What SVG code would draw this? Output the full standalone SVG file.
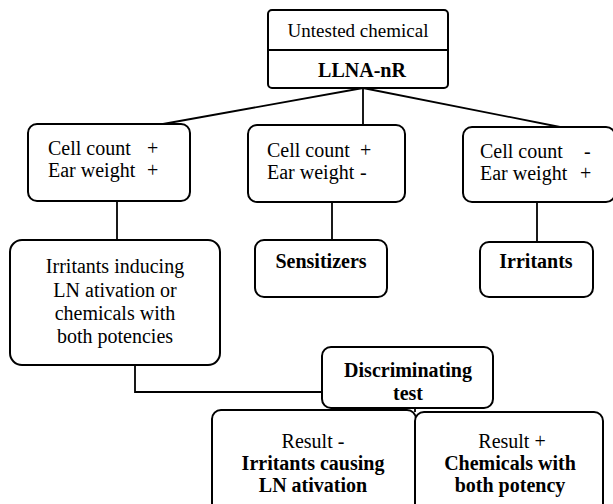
<svg xmlns="http://www.w3.org/2000/svg" width="613" height="504" viewBox="0 0 613 504" font-family="Times New Roman, Liberation Serif, Tinos, DejaVu Serif, Noto Serif, serif">
<style>
.box{fill:#fff;stroke:#000;stroke-width:2}
.ln{fill:none;stroke:#000;stroke-width:1.8}
.t{font-size:20px;fill:#000}
.c{text-anchor:middle}
.b{font-weight:bold}
</style>
<rect width="613" height="504" fill="#fff"/>
<g id="connectors">
<path class="ln" d="M363,88 L163,124"/>
<path class="ln" d="M363,88 L363,125"/>
<path class="ln" d="M363,88 L560,127"/>
<path class="ln" d="M117,201 L117,240"/>
<path class="ln" d="M332,202 L332,240"/>
<path class="ln" d="M537,202 L537,242"/>
<path class="ln" d="M135,365 L135,392 L322,392"/>
<path class="ln" d="M415,408 L415,412"/>
</g>
<g id="top">
<rect class="box" x="268" y="10" width="180" height="78" rx="4"/>
<line class="ln" x1="268" y1="50" x2="448" y2="50"/>
<text class="t c" x="358" y="37" style="font-size:19px">Untested chemical</text>
<text class="t c b" x="362" y="77">LLNA-nR</text>
</g>
<g id="n1">
<rect class="box" x="28" y="124" width="162" height="77" rx="9"/>
<text class="t" x="48" y="155">Cell count</text><text class="t" x="147" y="155">+</text>
<text class="t" x="48" y="177">Ear weight</text><text class="t" x="147" y="177">+</text>
</g>
<g id="n2">
<rect class="box" x="248" y="125" width="157" height="77" rx="9"/>
<text class="t" x="267" y="157">Cell count</text><text class="t" x="360" y="157">+</text>
<text class="t" x="267" y="179">Ear weight</text><text class="t" x="360" y="179">-</text>
</g>
<g id="n3">
<rect class="box" x="463" y="127" width="152" height="75" rx="9"/>
<text class="t" x="480" y="158">Cell count</text><text class="t" x="584" y="158">-</text>
<text class="t" x="480" y="180">Ear weight</text><text class="t" x="580" y="180">+</text>
</g>
<g id="n4">
<rect class="box" x="10" y="240" width="210" height="125" rx="12"/>
<text class="t c" x="115" y="273">Irritants inducing</text>
<text class="t c" x="115" y="297">LN ativation or</text>
<text class="t c" x="115" y="320">chemicals with</text>
<text class="t c" x="115" y="343">both potencies</text>
</g>
<g id="n5">
<rect class="box" x="255" y="240" width="132" height="57" rx="9"/>
<text class="t c b" x="321" y="268">Sensitizers</text>
</g>
<g id="n6">
<rect class="box" x="480" y="242" width="113" height="55" rx="9"/>
<text class="t c b" x="536" y="268">Irritants</text>
</g>
<g id="n7">
<rect class="box" x="322" y="347" width="171" height="61" rx="9"/>
<text class="t c b" x="408" y="377">Discriminating</text>
<text class="t c b" x="408" y="400">test</text>
</g>
<g id="n8">
<rect class="box" x="212" y="410" width="204" height="110" rx="9"/>
<text class="t c" x="313" y="448">Result -</text>
<text class="t c b" x="313" y="470">Irritants causing</text>
<text class="t c b" x="313" y="492">LN ativation</text>
</g>
<g id="n9">
<rect class="box" x="415" y="412" width="188" height="108" rx="9"/>
<text class="t c" x="512" y="448">Result +</text>
<text class="t c b" x="510" y="470">Chemicals with</text>
<text class="t c b" x="510" y="492">both potency</text>
</g>
</svg>
